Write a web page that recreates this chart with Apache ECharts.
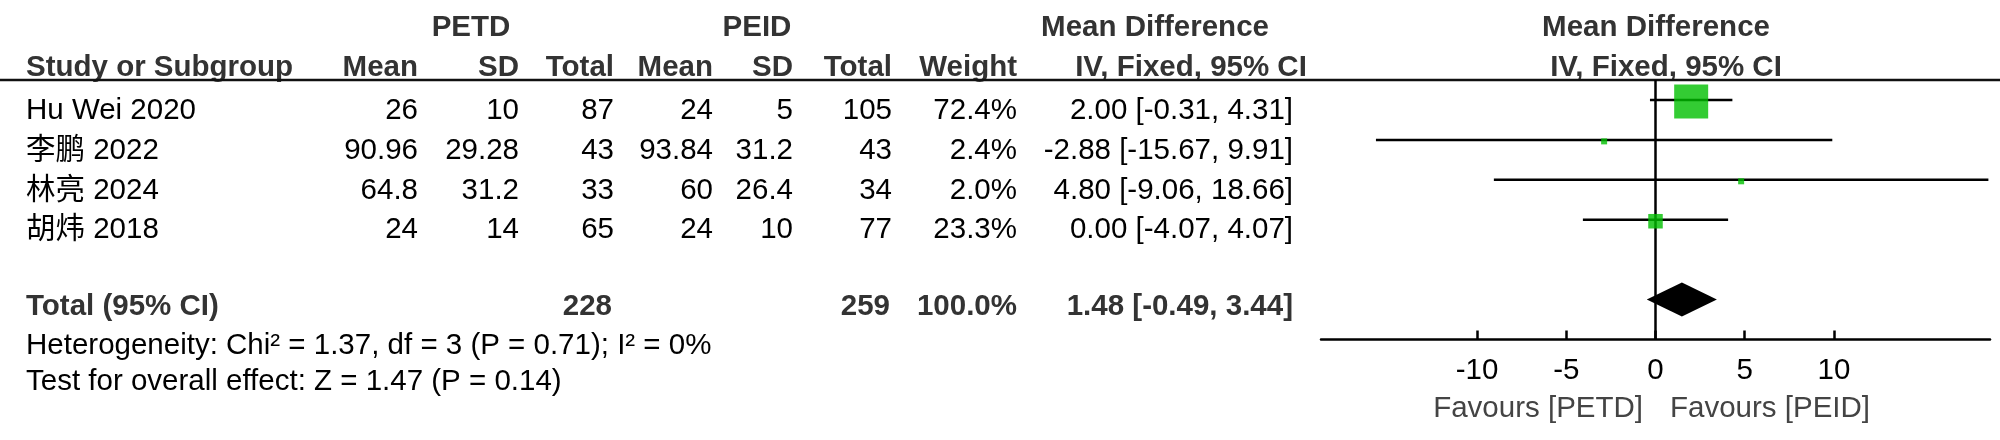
<!DOCTYPE html>
<html>
<head>
<meta charset="utf-8">
<title>Forest plot</title>
<script src="https://cdn.jsdelivr.net/npm/echarts@6/dist/echarts.min.js"></script>
<style>
  html, body { margin: 0; padding: 0; background: #fff; }
  #chart { width: 2000px; height: 440px; }
</style>
</head>
<body>
<div id="chart"></div>
<script>
  // ---- data ----
  var studies = ['Hu Wei 2020', '李鹏 2022', '林亮 2024', '胡炜 2018'];
  var petdMean = [26, 90.96, 64.8, 24];
  var petdSD = [10, 29.28, 31.2, 14];
  var petdTotal = [87, 43, 33, 65];
  var peidMean = [24, 93.84, 60, 24];
  var peidSD = [5, 31.2, 26.4, 10];
  var peidTotal = [105, 43, 34, 77];
  var weights = [72.4, 2.4, 2.0, 23.3];
  var md = [2.00, -2.88, 4.80, 0.00];
  var ciLow = [-0.31, -15.67, -9.06, -4.07];
  var ciHigh = [4.31, 9.91, 18.66, 4.07];

  var pooledTotals = [228, 259];
  var pooledWeight = 100.0;
  var pooled = [1.48, -0.49, 3.44];   // md, low, high
  var heterogeneity = 'Heterogeneity: Chi² = 1.37, df = 3 (P = 0.71); I² = 0%';
  var overallEffect = 'Test for overall effect: Z = 1.47 (P = 0.14)';

  var axisTicks = [-10, -5, 0, 5, 10];
  var favours = ['Favours [PETD]', 'Favours [PEID]'];

  // ---- layout ----
  var FONT = "'Liberation Sans', Arial, 'Noto Sans CJK SC', sans-serif";
  var FS = 29.5;
  var colRight = [418, 519, 614, 713, 793, 892, 1017, 1293];
  var rowY = [111, 151, 191, 230];
  var zeroX = 1656;

  function txt(s, x, y, align, bold, color) {
    return {
      type: 'text',
      silent: true,
      style: {
        text: String(s), x: x, y: y,
        textAlign: align, textVerticalAlign: 'middle',
        fontSize: FS, fontFamily: FONT, fontWeight: bold ? 'bold' : 'normal',
        fill: color || '#000'
      }
    };
  }
  function fmt(v, d) { return v.toFixed(d); }

  var graphics = [];
  // header
  var HC = '#333';
  graphics.push(txt('PETD', 471, 28, 'center', true, HC));
  graphics.push(txt('PEID', 757, 28, 'center', true, HC));
  graphics.push(txt('Mean Difference', 1155, 28, 'center', true, HC));
  graphics.push(txt('Mean Difference', 1656, 28, 'center', true, HC));
  graphics.push(txt('Study or Subgroup', 26, 68, 'left', true, HC));
  var subHeads = ['Mean', 'SD', 'Total', 'Mean', 'SD', 'Total', 'Weight'];
  subHeads.forEach(function (h, i) { graphics.push(txt(h, colRight[i], 68, 'right', true, HC)); });
  graphics.push(txt('IV, Fixed, 95% CI', 1191, 68, 'center', true, HC));
  graphics.push(txt('IV, Fixed, 95% CI', 1666, 68, 'center', true, HC));
  graphics.push({ type: 'line', silent: true, shape: { x1: 0, y1: 80, x2: 2000, y2: 80 },
    style: { stroke: '#111', lineWidth: 2.5 } });

  // study rows
  studies.forEach(function (s, i) {
    var y = rowY[i];
    graphics.push(txt(s, 26, y, 'left', false));
    var cells = [petdMean[i], petdSD[i], petdTotal[i], peidMean[i], peidSD[i], peidTotal[i],
      fmt(weights[i], 1) + '%',
      fmt(md[i], 2) + ' [' + fmt(ciLow[i], 2) + ', ' + fmt(ciHigh[i], 2) + ']'];
    cells.forEach(function (c, j) { graphics.push(txt(c, colRight[j], y, 'right', false)); });
  });

  // total rows
  graphics.push(txt('Total (95% CI)', 26, 307, 'left', true, HC));
  graphics.push(txt(pooledTotals[0], 612, 307, 'right', true, HC));
  graphics.push(txt(pooledTotals[1], 890, 307, 'right', true, HC));
  graphics.push(txt(fmt(pooledWeight, 1) + '%', colRight[6], 307, 'right', true, HC));
  graphics.push(txt(fmt(pooled[0], 2) + ' [' + fmt(pooled[1], 2) + ', ' + fmt(pooled[2], 2) + ']',
    colRight[7], 307, 'right', true, HC));
  graphics.push(txt(heterogeneity, 26, 346, 'left', false));
  graphics.push(txt(overallEffect, 26, 382, 'left', false));

  // favours labels
  graphics.push(txt(favours[0], zeroX - 13, 409, 'right', false, '#444'));
  graphics.push(txt(favours[1], zeroX + 14, 409, 'left', false, '#444'));

  // ---- plot data ----
  var whiskerData = studies.map(function (s, i) { return [ciLow[i], ciHigh[i], i + 0.5]; });
  var squareData = studies.map(function (s, i) { return [md[i], i + 0.5, weights[i]]; });
  var diamondData = [[pooled[1], pooled[2], 5.5, pooled[0]]];

  var chart = echarts.init(document.getElementById('chart'));
  chart.setOption({
    animation: false,
    backgroundColor: '#fff',
    grid: { left: 1321, right: 10, top: 80, bottom: 100.5 },
    xAxis: {
      type: 'value', min: -18.75, max: 18.75,
      axisLine: { show: true, onZero: false, lineStyle: { color: '#000', width: 2.5 } },
      axisTick: { show: true, inside: true, length: 9, customValues: axisTicks,
        lineStyle: { color: '#000', width: 2.5 } },
      axisLabel: { customValues: axisTicks, fontSize: FS, fontFamily: FONT, color: '#000', margin: 17 },
      splitLine: { show: false }
    },
    yAxis: { type: 'value', min: 0, max: 6.5, inverse: true, show: false },
    graphic: graphics,
    series: [
      {
        type: 'line', silent: true, symbol: 'none', z: 1,
        data: [[0, 0], [0, 6.5]],
        lineStyle: { color: '#000', width: 2.5 }
      },
      {
        type: 'custom', silent: true, z: 2,
        encode: { x: [0, 1], y: 2 },
        data: whiskerData,
        renderItem: function (params, api) {
          var p1 = api.coord([api.value(0), api.value(2)]);
          var p2 = api.coord([api.value(1), api.value(2)]);
          return { type: 'line', shape: { x1: p1[0], y1: p1[1], x2: p2[0], y2: p2[1] },
            style: { stroke: '#000', lineWidth: 2.5 } };
        }
      },
      {
        type: 'scatter', silent: true, z: 3,
        symbol: 'rect',
        symbolSize: function (v) { return Math.max(6, 34 * Math.pow(v[2] / 72.4, 0.75)); },
        symbolOffset: [0, 1.5],
        itemStyle: { color: '#00bf00' },
        data: squareData
      },
      {
        type: 'custom', silent: true, z: 4,
        encode: { x: [0, 1, 3], y: 2 },
        data: diamondData,
        renderItem: function (params, api) {
          var l = api.coord([api.value(0), api.value(2)]);
          var r = api.coord([api.value(1), api.value(2)]);
          var c = api.coord([api.value(3), api.value(2)]);
          return { type: 'polygon',
            shape: { points: [l, [c[0], c[1] - 17], r, [c[0], c[1] + 17]] },
            style: { fill: '#000' } };
        }
      }
    ]
  });
</script>
</body>
</html>
